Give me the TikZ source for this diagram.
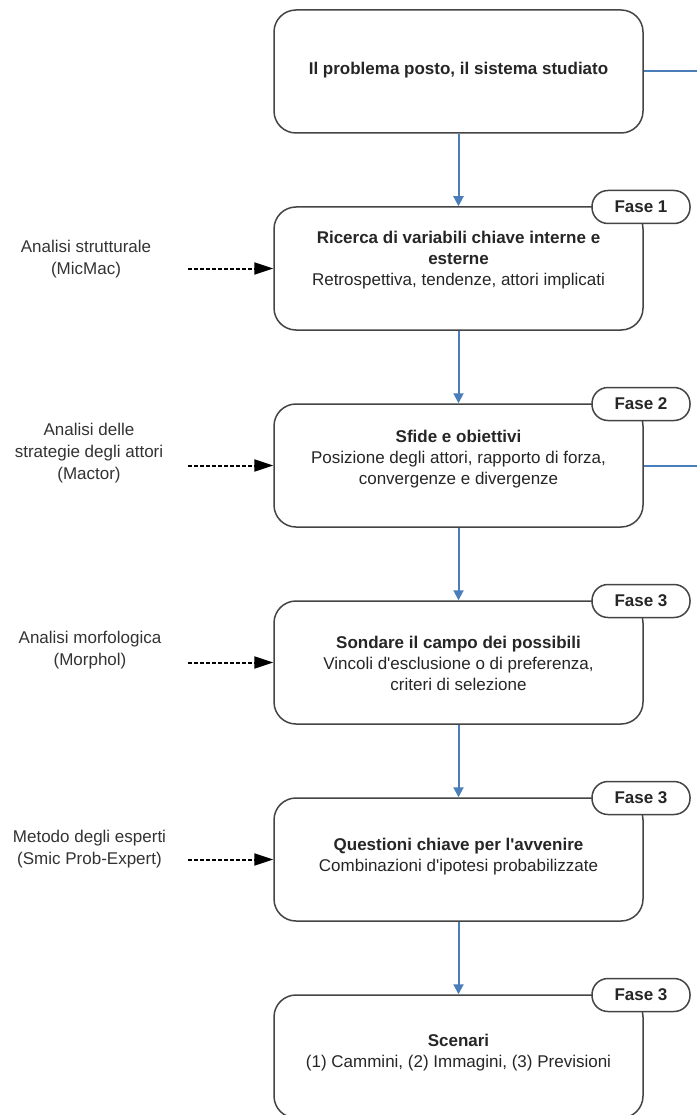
\documentclass[tikz,border=0pt]{standalone}
\usepackage{fontspec}
\setmainfont{Liberation Sans}
\usetikzlibrary{arrows.meta}
\definecolor{bblue}{HTML}{4A7EBB}
\definecolor{bgray}{HTML}{444444}
\newcommand{\apo}{\textquotesingle}
\begin{document}
\begin{tikzpicture}[x=1pt,y=-1pt,
  box/.style={draw=bgray, line width=1.5pt, rounded corners=22pt, minimum width=369pt, minimum height=123pt, fill=white, inner sep=0pt},
  tag/.style={draw=bgray, line width=1.5pt, rounded corners=16pt, minimum width=98pt, minimum height=33pt, fill=white, inner sep=0pt, text=black!85, font=\bfseries\fontsize{17}{20}\selectfont},
  txt/.style={align=center, inner sep=0pt, text=black!85, font=\fontsize{17}{21}\selectfont},
  lab/.style={align=center, inner sep=0pt, text=black!80, font=\fontsize{17}{22}\selectfont},
  flow/.style={draw=bblue, line width=2pt, -{Triangle[length=10pt,width=10pt]}},
  ext/.style={draw=bblue, line width=2pt},
  inp/.style={draw=black, line width=2pt, dash pattern=on 4pt off 2pt, -{Triangle[length=19pt,width=12pt]}}
]
\useasboundingbox (0,0) rectangle (696,1115);
\fill[white] (0,0) rectangle (696,1115);

% boxes
\node[box] (b1) at (458.5,71.5) {};
\node[box] (b2) at (458.5,268.5) {};
\node[box] (b3) at (458.5,465.5) {};
\node[box] (b4) at (458.5,662.5) {};
\node[box] (b5) at (458.5,859.5) {};
\node[box] (b6) at (458.5,1056.5) {};

% box texts
\node[txt] (t1) at (458.5,70) {\textbf{Il problema posto, il sistema studiato}};
\node[txt] (t2) at (458.5,260) {\textbf{Ricerca di variabili chiave interne e}\\\textbf{esterne}\\Retrospettiva, tendenze, attori implicati};
\node[txt] (t3) at (458.5,459) {\textbf{Sfide e obiettivi}\\Posizione degli attori, rapporto di forza,\\convergenze e divergenze};
\node[txt] (t4) at (458.5,663) {\textbf{Sondare il campo dei possibili}\\Vincoli d\apo esclusione o di preferenza,\\criteri di selezione};
\node[txt] (t5) at (458.5,857) {\textbf{Questioni chiave per l\apo avvenire}\\Combinazioni d\apo ipotesi probabilizzate};
\node[txt] (t6) at (458.5,1053) {\textbf{Scenari}\\(1) Cammini, (2) Immagini, (3) Previsioni};

% phase tags
\node[tag] (f1) at (641,207) {Fase 1};
\node[tag] (f2) at (641,404) {Fase 2};
\node[tag] (f3) at (641,601) {Fase 3};
\node[tag] (f4) at (641,798) {Fase 3};
\node[tag] (f5) at (641,995) {Fase 3};

% flow arrows
\draw[flow] (b1.south) -- (b2.north);
\draw[flow] (b2.south) -- (b3.north);
\draw[flow] (b3.south) -- (b4.north);
\draw[flow] (b4.south) -- (b5.north);
\draw[flow] (b5.south) -- (b6.north);

% lines leaving to the right
\coordinate (e1) at (700,71.5);
\coordinate (e3) at (700,465.5);
\draw[ext] (b1.east) -- (e1);
\draw[ext] (b3.east) -- (e3);

% method labels
\node[lab] (l2) at (86,259) {Analisi strutturale\\(MicMac)};
\node[lab] (l3) at (89,453) {Analisi delle\\strategie degli attori\\(Mactor)};
\node[lab] (l4) at (90,650) {Analisi morfologica\\(Morphol)};
\node[lab] (l5) at (89.5,849) {Metodo degli esperti\\(Smic Prob-Expert)};

% dashed input arrows
\coordinate (s2) at (188,268.5);
\coordinate (s3) at (188,465.5);
\coordinate (s4) at (188,662.5);
\coordinate (s5) at (188,859.5);
\draw[inp] (s2) -- (b2.west);
\draw[inp] (s3) -- (b3.west);
\draw[inp] (s4) -- (b4.west);
\draw[inp] (s5) -- (b5.west);
\end{tikzpicture}
\end{document}
